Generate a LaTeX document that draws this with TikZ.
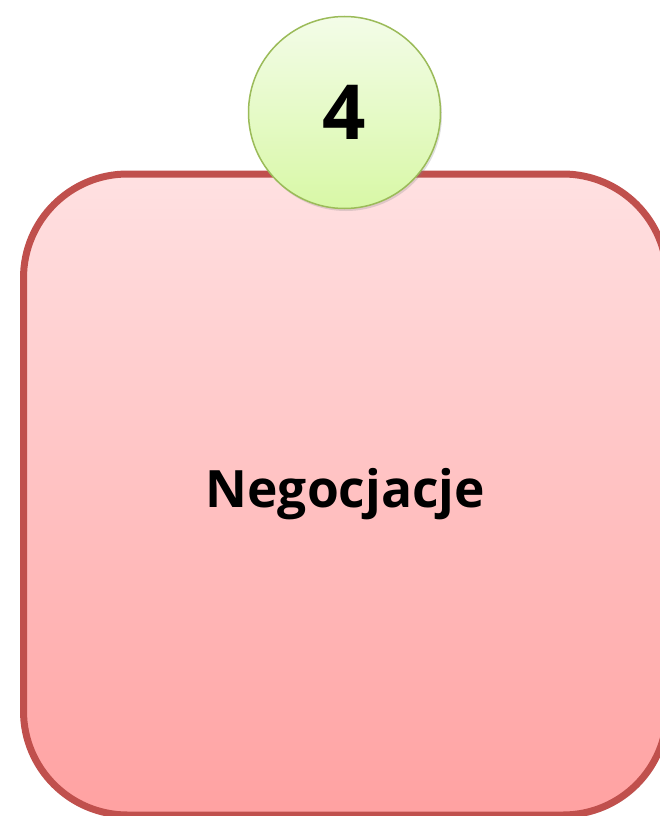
\documentclass[tikz,border=0pt]{standalone}
\usepackage{fontspec}
\setmainfont{Open Sans}
\usetikzlibrary{shadows}
\definecolor{stepred}{HTML}{C0504D}
\definecolor{steptop}{HTML}{FFE1E2}
\definecolor{stepbot}{HTML}{FFA1A1}
\definecolor{numgreen}{HTML}{9BBB59}
\definecolor{numtop}{HTML}{F3FCE8}
\definecolor{numbot}{HTML}{D8F8A6}
\tikzset{
  stagebox/.style={draw=stepred, line width=7pt, rounded corners=104pt,
    top color=steptop, bottom color=stepbot,
    minimum width=643.5pt, minimum height=641pt,
    drop shadow={shadow xshift=2pt, shadow yshift=-3pt, opacity=0.25},
    font=\fontsize{51.5}{62}\selectfont\bfseries},
  stagenum/.style={circle, draw=numgreen, line width=1.5pt,
    top color=numtop, bottom color=numbot, minimum size=192pt,
    drop shadow={shadow xshift=1.5pt, shadow yshift=-2.5pt, opacity=0.25},
    font=\fontsize{76}{90}\selectfont\bfseries}
}
\begin{document}
\begin{tikzpicture}
  \useasboundingbox (0,0) rectangle (660pt,-816pt);
  \clip (0,0) rectangle (660pt,-816pt);
  \node[stagebox] (stage) at (345.25pt,-494.5pt) {Negocjacje};
  \node[stagenum] (num) at (344.5pt,-112.5pt) {4};
\end{tikzpicture}
\end{document}
